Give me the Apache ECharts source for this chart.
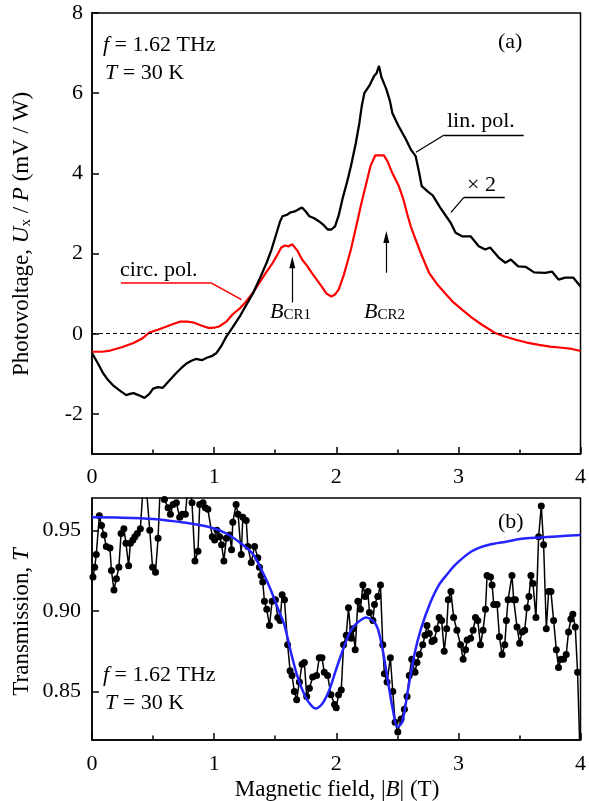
<!DOCTYPE html>
<html>
<head>
<meta charset="utf-8">
<script src="https://cdn.jsdelivr.net/npm/echarts@6/dist/echarts.min.js"></script>
<style>html,body{margin:0;padding:0;background:#fff}#c{width:589px;height:801px}</style>
</head>
<body>
<div id="c"></div>
<script>
// ---------- data ----------
const xTicks = [0, 1, 2, 3, 4];
const xMinorStep = 0.5;
const topYTicks = [-2, 0, 2, 4, 6, 8];
const bottomYTicks = [0.85, 0.90, 0.95];

// (a) linear polarization (x2), photovoltage U_x/P (mV/W) vs |B| (T)
const linPol = [[0,-0.48],[0.05,-0.75],[0.09,-0.98],[0.13,-1.15],[0.17,-1.28],[0.22,-1.4],[0.28,-1.53],[0.31,-1.5],[0.34,-1.48],[0.38,-1.53],[0.43,-1.6],[0.47,-1.5],[0.5,-1.37],[0.54,-1.33],[0.58,-1.35],[0.63,-1.18],[0.69,-0.98],[0.73,-0.86],[0.77,-0.75],[0.81,-0.68],[0.85,-0.63],[0.9,-0.66],[0.94,-0.6],[0.98,-0.56],[1.02,-0.48],[1.06,-0.3],[1.1,-0.07],[1.15,0.15],[1.21,0.43],[1.26,0.7],[1.32,1.02],[1.37,1.35],[1.43,1.77],[1.47,2.1],[1.51,2.5],[1.54,2.8],[1.56,2.93],[1.6,2.97],[1.62,3.02],[1.66,3.05],[1.7,3.12],[1.72,3.15],[1.75,3.05],[1.78,2.93],[1.82,2.88],[1.86,2.8],[1.9,2.7],[1.93,2.6],[1.96,2.6],[1.99,2.68],[2.02,2.95],[2.05,3.35],[2.09,3.8],[2.12,4.18],[2.16,4.75],[2.19,5.27],[2.21,5.7],[2.23,6.0],[2.27,6.18],[2.31,6.43],[2.33,6.5],[2.35,6.68],[2.37,6.4],[2.39,6.25],[2.41,6.1],[2.44,5.8],[2.46,5.5],[2.51,5.18],[2.57,4.85],[2.61,4.6],[2.65,4.43],[2.68,4.0],[2.7,3.68],[2.73,3.6],[2.76,3.52],[2.79,3.45],[2.81,3.35],[2.85,3.15],[2.9,2.93],[2.94,2.75],[2.977,2.52],[3.03,2.43],[3.1,2.43],[3.167,2.18],[3.22,2.1],[3.26,2.15],[3.33,1.9],[3.385,1.77],[3.43,1.85],[3.49,1.68],[3.55,1.67],[3.62,1.53],[3.71,1.52],[3.766,1.55],[3.82,1.35],[3.875,1.4],[3.94,1.4],[4.0,1.18]];

// (a) circular polarization
const circPol = [[0,-0.45],[0.08,-0.45],[0.15,-0.42],[0.25,-0.33],[0.34,-0.23],[0.41,-0.12],[0.47,0.03],[0.54,0.1],[0.61,0.18],[0.67,0.25],[0.72,0.3],[0.78,0.3],[0.83,0.28],[0.9,0.2],[0.96,0.14],[1.0,0.15],[1.04,0.18],[1.1,0.3],[1.15,0.48],[1.21,0.63],[1.26,0.8],[1.32,1.03],[1.37,1.27],[1.43,1.55],[1.48,1.77],[1.52,1.98],[1.55,2.15],[1.58,2.2],[1.61,2.18],[1.64,2.23],[1.68,2.08],[1.72,1.85],[1.76,1.7],[1.8,1.52],[1.84,1.35],[1.88,1.18],[1.92,1.0],[1.96,0.93],[1.99,0.98],[2.02,1.1],[2.06,1.45],[2.09,1.77],[2.12,2.1],[2.15,2.5],[2.18,2.9],[2.2,3.18],[2.24,3.68],[2.28,4.18],[2.32,4.45],[2.36,4.45],[2.39,4.45],[2.42,4.3],[2.46,4.0],[2.51,3.7],[2.55,3.35],[2.58,3.0],[2.61,2.68],[2.65,2.35],[2.7,1.95],[2.76,1.52],[2.83,1.22],[2.9,0.98],[2.96,0.78],[3.03,0.6],[3.11,0.4],[3.19,0.23],[3.3,0.02],[3.38,-0.07],[3.47,-0.15],[3.56,-0.22],[3.66,-0.28],[3.75,-0.32],[3.85,-0.35],[3.93,-0.38],[4.0,-0.43]];

// (b) measured transmission T vs |B|
const transData = [[0.008,0.921],[0.022,0.927],[0.035,0.935],[0.060,0.959],[0.078,0.953],[0.098,0.947],[0.117,0.940],[0.147,0.939],[0.159,0.925],[0.180,0.913],[0.200,0.920],[0.220,0.927],[0.238,0.948],[0.261,0.951],[0.278,0.942],[0.300,0.928],[0.314,0.942],[0.335,0.944],[0.351,0.946],[0.371,0.948],[0.396,0.951],[0.430,0.990],[0.473,0.950],[0.496,0.927],[0.520,0.924],[0.541,0.945],[0.563,0.985],[0.593,0.969],[0.623,0.964],[0.642,0.960],[0.664,0.966],[0.691,0.967],[0.718,0.958],[0.740,0.960],[0.765,0.960],[0.788,0.980],[0.819,0.967],[0.843,0.931],[0.868,0.937],[0.882,0.966],[0.909,0.967],[0.928,0.964],[0.949,0.963],[0.985,0.946],[1.004,0.944],[1.023,0.950],[1.045,0.946],[1.061,0.941],[1.080,0.931],[1.100,0.945],[1.127,0.947],[1.143,0.938],[1.153,0.955],[1.180,0.966],[1.196,0.960],[1.222,0.935],[1.235,0.958],[1.263,0.956],[1.276,0.940],[1.304,0.930],[1.331,0.940],[1.358,0.933],[1.371,0.927],[1.385,0.922],[1.398,0.918],[1.412,0.906],[1.431,0.901],[1.453,0.891],[1.475,0.906],[1.502,0.907],[1.521,0.896],[1.540,0.894],[1.557,0.910],[1.576,0.907],[1.602,0.879],[1.622,0.863],[1.638,0.860],[1.657,0.850],[1.676,0.845],[1.698,0.856],[1.720,0.867],[1.739,0.868],[1.758,0.847],[1.780,0.852],[1.807,0.859],[1.839,0.860],[1.861,0.871],[1.883,0.871],[1.902,0.862],[1.929,0.860],[1.957,0.848],[1.986,0.842],[2.000,0.840],[2.019,0.848],[2.041,0.851],[2.060,0.879],[2.082,0.885],[2.100,0.902],[2.122,0.883],[2.136,0.889],[2.155,0.876],[2.177,0.906],[2.198,0.901],[2.218,0.916],[2.237,0.909],[2.259,0.912],[2.272,0.899],[2.300,0.894],[2.313,0.904],[2.340,0.909],[2.362,0.916],[2.381,0.879],[2.394,0.861],[2.416,0.856],[2.443,0.871],[2.463,0.850],[2.482,0.831],[2.504,0.825],[2.531,0.833],[2.558,0.839],[2.580,0.847],[2.598,0.860],[2.618,0.870],[2.645,0.862],[2.661,0.868],[2.680,0.873],[2.708,0.879],[2.727,0.885],[2.743,0.891],[2.762,0.886],[2.784,0.881],[2.802,0.882],[2.824,0.889],[2.843,0.896],[2.863,0.894],[2.884,0.875],[2.904,0.889],[2.917,0.907],[2.939,0.912],[2.961,0.896],[2.988,0.888],[3.018,0.879],[3.039,0.870],[3.059,0.876],[3.072,0.882],[3.100,0.883],[3.121,0.888],[3.140,0.896],[3.159,0.894],[3.181,0.879],[3.202,0.888],[3.222,0.901],[3.235,0.922],[3.263,0.921],[3.276,0.916],[3.290,0.904],[3.317,0.904],[3.336,0.884],[3.358,0.873],[3.380,0.879],[3.393,0.894],[3.407,0.907],[3.439,0.922],[3.453,0.907],[3.467,0.907],[3.480,0.890],[3.502,0.880],[3.521,0.887],[3.543,0.888],[3.562,0.902],[3.578,0.909],[3.594,0.922],[3.611,0.917],[3.635,0.896],[3.657,0.946],[3.679,0.965],[3.698,0.941],[3.720,0.889],[3.739,0.912],[3.758,0.912],[3.780,0.894],[3.802,0.876],[3.820,0.865],[3.839,0.870],[3.861,0.870],[3.883,0.873],[3.902,0.887],[3.921,0.895],[3.937,0.898],[3.957,0.890],[3.976,0.862],[4.0,0.80]];

// (b) fit curve
const transFit = [[0,0.958],[0.25,0.9578],[0.5,0.957],[0.75,0.9548],[0.96,0.952],[1.1,0.948],[1.235,0.941],[1.32,0.935],[1.385,0.926],[1.453,0.915],[1.52,0.902],[1.576,0.891],[1.63,0.874],[1.684,0.859],[1.752,0.846],[1.8,0.841],[1.83,0.8395],[1.89,0.843],[1.943,0.851],[2.0,0.864],[2.07,0.879],[2.12,0.888],[2.177,0.893],[2.245,0.896],[2.3,0.894],[2.34,0.889],[2.38,0.876],[2.42,0.858],[2.463,0.839],[2.5,0.828],[2.54,0.831],[2.585,0.850],[2.64,0.873],[2.694,0.889],[2.775,0.906],[2.84,0.916],[2.9,0.922],[2.98,0.929],[3.11,0.937],[3.25,0.941],[3.4,0.943],[3.52,0.9447],[3.66,0.9455],[3.8,0.9462],[4.0,0.947]];

// ---------- chart ----------
const FONT = 'Liberation Serif';
const chart = echarts.init(document.getElementById('c'), null, {renderer: 'canvas'});

function xAxisCfg(gi, margin) {
  return {
    gridIndex: gi, type: 'value', position: 'bottom', min: xTicks[0], max: xTicks[xTicks.length - 1], interval: 1,
    axisLine: {show: true, onZero: false, lineStyle: {color: '#000', width: 1.5}},
    axisTick: {show: true, inside: true, length: 7, lineStyle: {color: '#000', width: 1.5}},
    splitLine: {show: false},
    axisLabel: {color: '#000', fontFamily: FONT, fontSize: 22, margin: margin, formatter: v => String(v)}
  };
}
function xMinorAxisCfg(gi) {
  return {
    gridIndex: gi, type: 'value', position: 'bottom', offset: 0,
    min: xTicks[0], max: xTicks[xTicks.length - 1], interval: xMinorStep,
    axisLine: {show: false, onZero: false},
    axisTick: {show: true, inside: true, length: 4.5, lineStyle: {color: '#000', width: 1.5}},
    splitLine: {show: false},
    axisLabel: {show: false}
  };
}

const txt = (x, y, text, size) => ({
  type: 'text', x: x, y: y, silent: true,
  style: {text: text, fill: '#000', fontFamily: FONT, fontSize: size || 22,
    align: 'left', verticalAlign: 'middle', textAlign: 'left', textVerticalAlign: 'middle',
    rich: {
      i: {fontStyle: 'italic', fontFamily: FONT, fontSize: size || 22},
      s: {fontFamily: FONT, fontSize: 15, verticalAlign: 'bottom', lineHeight: 15}
    }}
});

const option = {
  animation: false,
  backgroundColor: '#fff',
  grid: [
    {left: 92, top: 13, width: 490, height: 441, show: true, borderColor: '#000', borderWidth: 1.5, backgroundColor: 'transparent'},
    {left: 92, top: 498, width: 490, height: 242, show: true, borderColor: '#000', borderWidth: 1.5, backgroundColor: 'transparent'}
  ],
  xAxis: [xAxisCfg(0, 12), xAxisCfg(1, 13), xMinorAxisCfg(0), xMinorAxisCfg(1)],
  yAxis: [
    {gridIndex: 0, type: 'value', min: -3, max: 8,
      axisLine: {show: true, onZero: false, lineStyle: {color: '#000', width: 1.5}},
      axisTick: {show: true, inside: true, length: 7, customValues: topYTicks, lineStyle: {color: '#000', width: 1.5}},
      splitLine: {show: false},
      axisLabel: {color: '#000', fontFamily: FONT, fontSize: 22, margin: 9, customValues: topYTicks, formatter: v => String(v)}},
    {gridIndex: 1, type: 'value', min: 0.82, max: 0.97,
      axisLine: {show: true, onZero: false, lineStyle: {color: '#000', width: 1.5}},
      axisTick: {show: true, inside: true, length: 7, customValues: bottomYTicks, lineStyle: {color: '#000', width: 1.5}},
      splitLine: {show: false},
      axisLabel: {color: '#000', fontFamily: FONT, fontSize: 22, margin: 11, customValues: bottomYTicks, formatter: v => v.toFixed(2)}}
  ],
  series: [
    {type: 'line', xAxisIndex: 0, yAxisIndex: 0, data: circPol, showSymbol: false, symbol: 'none',
      lineStyle: {color: '#ff0000', width: 2.2}, z: 3,
      markLine: {silent: true, symbol: 'none', label: {show: false},
        lineStyle: {color: '#000', width: 1, type: [4, 3]},
        data: [{yAxis: 0}]}},
    {type: 'line', xAxisIndex: 0, yAxisIndex: 0, data: linPol, showSymbol: false, symbol: 'none',
      lineStyle: {color: '#000', width: 2.3}, z: 4,
      markLine: {silent: true, label: {show: false}, symbol: ['none', 'none'],
        lineStyle: {color: '#000', width: 1.3, type: 'solid'},
        data: [
          [{coord: [2.653, 4.525]}, {coord: [2.88, 4.95]}],
          [{coord: [2.88, 4.95]}, {coord: [3.535, 4.95]}],
          [{coord: [2.94, 3.025]}, {coord: [3.045, 3.4]}],
          [{coord: [3.045, 3.4]}, {coord: [3.38, 3.4]}]
        ]}},
    {type: 'line', xAxisIndex: 0, yAxisIndex: 0, data: [], showSymbol: false,
      markLine: {silent: true, label: {show: false}, symbol: ['none', 'none'],
        lineStyle: {color: '#ff0000', width: 1.6, type: 'solid'},
        data: [
          [{coord: [0.237, 1.275]}, {coord: [0.971, 1.275]}],
          [{coord: [0.971, 1.275]}, {coord: [1.224, 0.85]}]
        ]}},
    {type: 'line', xAxisIndex: 0, yAxisIndex: 0, data: [], showSymbol: false,
      markLine: {silent: true, label: {show: false}, symbol: ['none', 'triangle'], symbolSize: [6, 12],
        itemStyle: {color: '#000'},
        lineStyle: {color: '#000', width: 1.2, type: 'solid'},
        data: [
          [{coord: [1.64, 0.78]}, {coord: [1.64, 1.78]}],
          [{coord: [2.41, 1.52]}, {coord: [2.41, 2.41]}]
        ]}},
    {type: 'line', xAxisIndex: 1, yAxisIndex: 1, data: transData, showSymbol: true, symbol: 'circle', symbolSize: 7,
      itemStyle: {color: '#000', borderWidth: 0}, lineStyle: {color: '#000', width: 1.5}, clip: true, z: 3},
    {type: 'line', xAxisIndex: 1, yAxisIndex: 1, data: transFit, showSymbol: false, symbol: 'none', smooth: 0.3,
      lineStyle: {color: '#2424ff', width: 2.5}, z: 4, clip: true}
  ],
  graphic: [
    txt(22, 234, 'Photovoltage, {i|U}{s|x} / {i|P} (mV / W)', 23),
    txt(22, 622, 'Transmission, {i|T}', 23),
    txt(337, 790, 'Magnetic field, |{i|B}| (T)', 23),
    txt(103, 45, '{i|f} = 1.62 THz'),
    txt(105, 73, '{i|T} = 30 K'),
    txt(498, 42, '(a)'),
    txt(447, 121, 'lin. pol.'),
    txt(467, 185, '× 2'),
    txt(120, 270, 'circ. pol.'),
    txt(270, 312, '{i|B}{s|CR1}'),
    txt(364, 312, '{i|B}{s|CR2}'),
    txt(103, 675, '{i|f} = 1.62 THz'),
    txt(105, 703, '{i|T} = 30 K'),
    txt(498, 522, '(b)')
  ]
};
[0, 1].forEach(k => { option.graphic[k].rotation = Math.PI / 2; });
[0, 1, 2].forEach(k => { option.graphic[k].style.align = 'center'; option.graphic[k].style.textAlign = 'center'; });
chart.setOption(option);
</script>
</body>
</html>
